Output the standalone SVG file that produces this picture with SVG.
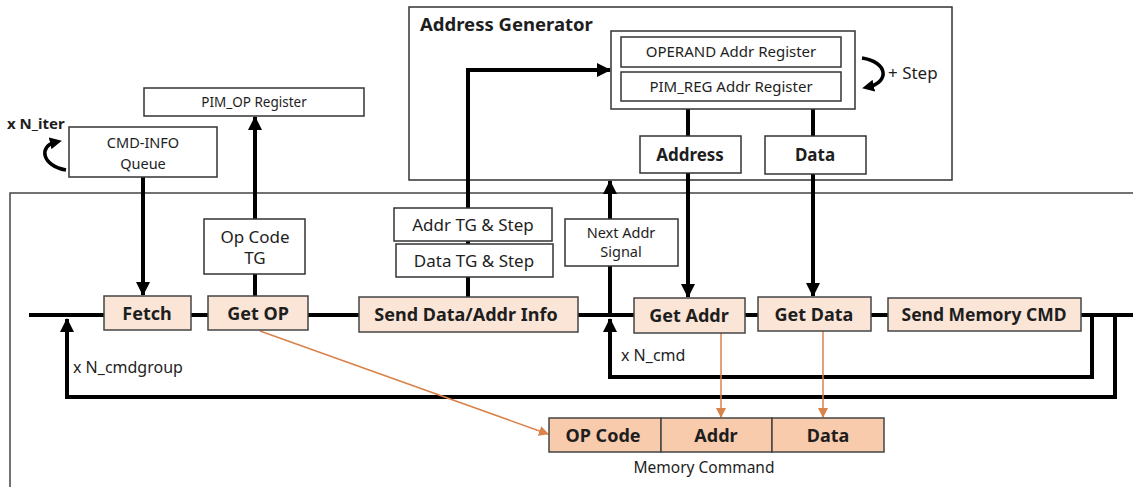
<svg xmlns="http://www.w3.org/2000/svg" width="1133" height="487" viewBox="0 0 1133 487">
  <style>
    text { font-family: "Noto Sans", "Open Sans", sans-serif; fill: #1e1e1e; text-anchor: middle; }
    .box { fill: #ffffff; stroke: #333333; stroke-width: 1.5; }
    .stage { fill: #fbe5d6; stroke: #444444; stroke-width: 1.5; }
    .cmd { fill: #f8cbad; stroke: #444444; stroke-width: 1.5; }
    .wire { fill: none; stroke: #000000; stroke-width: 4; }
    .thin { fill: none; stroke: #000000; stroke-width: 3.5; }
    .orange { fill: none; stroke: #d9824a; stroke-width: 1.5; }
    .stg { font-size: 18px; font-weight: bold; }
    .out { font-size: 17px; font-weight: bold; }
    .t17 { font-size: 17px; }
    .t15 { font-size: 15px; }
    .t16 { font-size: 16px; }
    .left { text-anchor: start; }
  </style>
  <defs>
    <marker id="ah" markerUnits="userSpaceOnUse" markerWidth="14" markerHeight="14" viewBox="0 0 14 14" refX="13" refY="7" orient="auto">
      <path d="M0,0 L14,7 L0,14 Z" fill="#000"/>
    </marker>
    <marker id="ahc" markerUnits="userSpaceOnUse" markerWidth="12" markerHeight="12" viewBox="0 0 12 12" refX="6" refY="6" orient="auto">
      <path d="M0,0 L12,6 L0,12 Z" fill="#000"/>
    </marker>
    <marker id="oh" markerUnits="userSpaceOnUse" markerWidth="10" markerHeight="10" viewBox="0 0 10 10" refX="9" refY="5" orient="auto">
      <path d="M0,0 L10,5 L0,10 Z" fill="#d9824a"/>
    </marker>
  </defs>

  <rect width="1133" height="487" fill="#ffffff"/>

  <!-- controller frame (runs past the right and bottom edges) -->
  <rect id="controller" x="10" y="193" width="1140" height="310" fill="none" stroke="#444" stroke-width="1.5"/>

  <!-- address generator block -->
  <g id="address-generator">
    <rect x="409" y="7" width="543" height="173" class="box"/>
    <text x="420" y="31" class="left" font-size="18.5" font-weight="bold">Address Generator</text>
  </g>

  <!-- connectors -->
  <g id="connectors">
    <!-- main pipeline line -->
    <path class="wire" d="M29 315 H1133"/>
    <!-- N_cmd loop -->
    <path class="wire" d="M1092 315 V377 H610 V319" marker-end="url(#ah)"/>
    <!-- N_cmdgroup loop -->
    <path class="wire" d="M1115 315 V397 H67 V319" marker-end="url(#ah)"/>
    <!-- next address signal up to generator -->
    <path class="wire" d="M610 315 V181" marker-end="url(#ah)"/>
    <!-- address / data down to pipeline -->
    <path class="wire" d="M688 109 V297" marker-end="url(#ah)"/>
    <path class="wire" d="M813 109 V296" marker-end="url(#ah)"/>
    <!-- queue to fetch -->
    <path class="wire" d="M143 177 V295" marker-end="url(#ah)"/>
    <!-- op code to PIM_OP register -->
    <path class="wire" d="M255 296 V117" marker-end="url(#ah)"/>
    <!-- data/addr info to generator registers -->
    <path class="wire" d="M468 297 V70 H610" marker-end="url(#ah)"/>
    <!-- repeat arrows -->
    <path class="thin" d="M66 170 C42 166 38 146 56 142" marker-end="url(#ahc)"/>
    <path class="thin" d="M862 58 C888 62 890 82 868 87" marker-end="url(#ahc)"/>
    <!-- memory command fields -->
    <path class="orange" d="M260 331 L548 434" marker-end="url(#oh)"/>
    <path class="orange" d="M721 333 V417" marker-end="url(#oh)"/>
    <path class="orange" d="M823 331 V417" marker-end="url(#oh)"/>
  </g>

  <g id="operand-registers">
    <rect x="611" y="31" width="244" height="78" class="box"/>
    <rect x="621" y="37" width="220" height="30" class="box"/>
    <text x="731" y="57" class="t15">OPERAND Addr Register</text>
    <rect x="621" y="72" width="220" height="29" class="box"/>
    <text x="731" y="92" class="t15">PIM_REG Addr Register</text>
  </g>
  <text id="step-label" x="888" y="79" class="t17 left">+ Step</text>

  <g id="address-out">
    <rect x="640" y="136" width="101" height="37" class="box"/>
    <text x="690" y="161" class="out">Address</text>
  </g>
  <g id="data-out">
    <rect x="765" y="136" width="101" height="38" class="box"/>
    <text x="815" y="161" class="out">Data</text>
  </g>

  <g id="pim-op-register">
    <rect x="144" y="88" width="220" height="28" class="box"/>
    <text x="254" y="107" font-size="13.5">PIM_OP Register</text>
  </g>
  <text id="iter-label" x="7" y="129" class="t15 left" font-weight="bold">x N_iter</text>
  <g id="cmd-info-queue">
    <rect x="69" y="127" width="148" height="50" class="box"/>
    <text x="143" y="148" font-size="14.5">CMD-INFO</text>
    <text x="143" y="169" font-size="14.5">Queue</text>
  </g>

  <g id="op-code-tg">
    <rect x="204" y="219" width="101" height="55" class="box"/>
    <text x="255" y="243" class="t17">Op Code</text>
    <text x="255" y="264" class="t17">TG</text>
  </g>
  <g id="addr-tg">
    <rect x="394" y="208" width="158" height="33" class="box"/>
    <text x="473" y="231" class="t17">Addr TG &amp; Step</text>
  </g>
  <g id="data-tg">
    <rect x="396" y="244" width="157" height="33" class="box"/>
    <text x="474" y="267" class="t17">Data TG &amp; Step</text>
  </g>
  <g id="next-addr-signal">
    <rect x="565" y="219" width="113" height="47" class="box"/>
    <text x="621" y="238" font-size="14.5">Next Addr</text>
    <text x="621" y="257" font-size="14.5">Signal</text>
  </g>

  <g id="fetch">
    <rect x="104" y="296" width="87" height="34" class="stage"/>
    <text x="147" y="320" class="stg">Fetch</text>
  </g>
  <g id="get-op">
    <rect x="208" y="296" width="100" height="34" class="stage"/>
    <text x="258" y="320" class="stg">Get OP</text>
  </g>
  <g id="send-info">
    <rect x="359" y="297" width="219" height="35" class="stage"/>
    <text x="466" y="321" class="stg">Send Data/Addr Info</text>
  </g>
  <g id="get-addr">
    <rect x="634" y="298" width="111" height="35" class="stage"/>
    <text x="689" y="322" class="stg">Get Addr</text>
  </g>
  <g id="get-data">
    <rect x="758" y="297" width="113" height="34" class="stage"/>
    <text x="814" y="321" class="stg">Get Data</text>
  </g>
  <g id="send-memory-cmd">
    <rect x="888" y="298" width="193" height="33" class="stage"/>
    <text x="984" y="321" font-size="17.5" font-weight="bold">Send Memory CMD</text>
  </g>

  <g id="memory-command">
    <rect x="549" y="418" width="112" height="34" class="cmd"/>
    <text x="603" y="442" class="stg">OP Code</text>
    <rect x="661" y="418" width="111" height="34" class="cmd"/>
    <text x="716" y="442" class="stg">Addr</text>
    <rect x="772" y="418" width="112" height="34" class="cmd"/>
    <text x="828" y="442" class="stg">Data</text>
    <text x="704" y="473" font-size="15.5">Memory Command</text>
  </g>
  <text id="cmd-label" x="621" y="361" class="t16 left">x N_cmd</text>
  <text id="cmdgroup-label" x="73" y="373" class="t16 left">x N_cmdgroup</text>
</svg>
